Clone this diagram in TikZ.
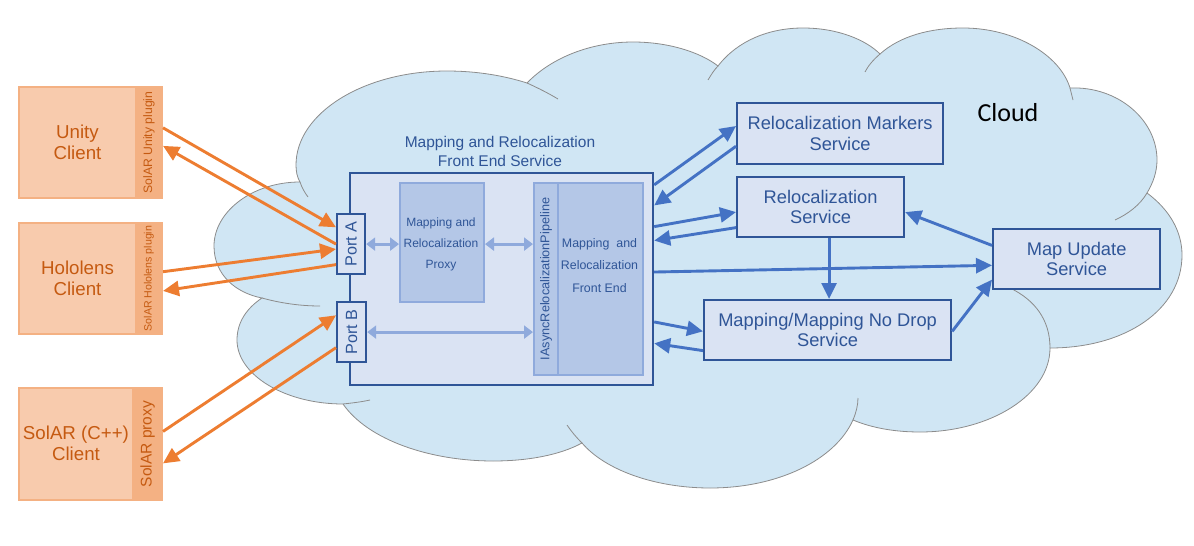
\documentclass[tikz,border=0pt]{standalone}
\usepackage{fontspec}
\setmainfont{Liberation Sans}
\newfontfamily\carlitofont{Carlito}
\usetikzlibrary{arrows.meta,calc}
\definecolor{cloudfill}{HTML}{D0E6F4}
\definecolor{cloudline}{HTML}{8C8C8C}
\definecolor{orng}{HTML}{ED7D31}
\definecolor{clientfill}{HTML}{F8CBAD}
\definecolor{clientdark}{HTML}{F4B183}
\definecolor{clienttext}{HTML}{C55A11}
\definecolor{boxfill}{HTML}{DAE3F3}
\definecolor{boxline}{HTML}{2F5597}
\definecolor{arrowblue}{HTML}{4472C4}
\definecolor{innerfill}{HTML}{B4C7E7}
\definecolor{innerline}{HTML}{8FAADC}
\begin{document}
\begin{tikzpicture}[x=1pt,y=-1pt,
  clientbox/.style={draw=clientdark, fill=clientfill, line width=2pt, inner sep=0pt, anchor=north west},
  clientstrip/.style={draw=clientdark, fill=clientdark, line width=2pt, inner sep=0pt, anchor=north west},
  clienttxt/.style={text=clienttext, font=\fontsize{18.7}{21}\selectfont, align=center},
  striptxt/.style={text=clienttext, rotate=90},
  svcbox/.style={draw=boxline, fill=boxfill, line width=2.2pt, inner sep=0pt, anchor=north west, text=boxline, align=center, font=\fontsize{18.3}{20.5}\selectfont},
  portbox/.style={draw=boxline, fill=boxfill, line width=2.2pt, inner sep=0pt, anchor=north west},
  innerbox/.style={draw=innerline, fill=innerfill, line width=2pt, inner sep=0pt, anchor=north west},
  innertxt/.style={text=boxline, align=center},
  orarrow/.style={draw=orng, line width=2.9pt, -{Triangle[length=16pt 0 0,width=15pt 0 0]}},
  blarrow/.style={draw=arrowblue, line width=2.9pt, -{Triangle[length=16pt 0 0,width=15pt 0 0]}},
  lbarrow/.style={draw=innerline, line width=3pt, {Triangle[length=9pt 0 0,width=13pt 0 0]}-{Triangle[length=9pt 0 0,width=13pt 0 0]}}
]
\useasboundingbox (0,0) rectangle (1194,546);

% cloud
\path[fill=cloudfill, draw=cloudline, line width=0.8pt]
 (262,298) .. controls (236,293) and (214,275) .. (214,246)
 .. controls (214,212) and (252,182) .. (300,182)
 .. controls (297,177) and (296,171) .. (296,165)
 .. controls (296,113) and (364,71) .. (447,71)
 .. controls (478,71) and (505,76) .. (527,83)
 .. controls (552,57) and (592,42) .. (633,42)
 .. controls (668,42) and (700,52) .. (718,66)
 .. controls (738,40) and (770,28) .. (803,28)
 .. controls (838,28) and (866,40) .. (880,54)
 .. controls (900,36) and (930,28) .. (963,28)
 .. controls (1015,28) and (1060,55) .. (1070,88)
 .. controls (1118,86) and (1157,120) .. (1157,160)
 .. controls (1157,172) and (1153,183) .. (1147,193)
 .. controls (1170,210) and (1182,232) .. (1182,255)
 .. controls (1182,310) and (1125,348) .. (1050,348)
 .. controls (1050,395) and (990,432) .. (920,432)
 .. controls (895,432) and (872,428) .. (853,420)
 .. controls (835,460) and (778,488) .. (710,488)
 .. controls (655,488) and (605,470) .. (582,443)
 .. controls (560,455) and (528,461) .. (493,461)
 .. controls (430,461) and (368,440) .. (343,404)
 .. controls (285,404) and (237,375) .. (237,340)
 .. controls (237,322) and (247,308) .. (262,298) -- cycle;
\draw[cloudline, line width=0.8pt]
 (300,182) .. controls (302,188) and (305,193) .. (308,197)
 (527,83) .. controls (538,88) and (548,93) .. (558,99)
 (718,66) .. controls (714,70) and (711,75) .. (708,80)
 (880,54) .. controls (873,60) and (868,66) .. (865,72)
 (1070,88) .. controls (1071,92) and (1072,96) .. (1073,100)
 (1147,193) .. controls (1140,205) and (1128,214) .. (1115,220)
 (1050,348) .. controls (1050,320) and (1035,300) .. (1010,288)
 (853,420) .. controls (856,413) and (858,405) .. (858,398)
 (582,443) .. controls (576,437) and (571,431) .. (567,425)
 (343,404) .. controls (352,403) and (361,402) .. (370,400)
 (262,298) .. controls (280,303) and (300,306) .. (320,306);
\node[font=\carlitofont\fontsize{26}{30}\selectfont] (cloudlbl) at (1008,113) {Cloud};

% clients
\node[clientbox, minimum width=117pt, minimum height=111pt] (unity) at (18,86) {};
\node[clientstrip, minimum width=26pt, minimum height=111pt] (unitys) at (135,86) {};
\node[clienttxt] (unitytxt) at (unity.center) {Unity\\Client};
\node[striptxt, font=\fontsize{12.2}{14}\selectfont] (unityplug) at (unitys.center) {SolAR Unity plugin};

\node[clientbox, minimum width=117pt, minimum height=111pt] (holo) at (18,222) {};
\node[clientstrip, minimum width=26pt, minimum height=111pt] (holos) at (135,222) {};
\node[clienttxt] (holotxt) at (holo.center) {Hololens\\Client};
\node[striptxt, font=\fontsize{10.6}{12}\selectfont] (holoplug) at (holos.center) {SolAR Hololens plugin};

\node[clientbox, minimum width=114pt, minimum height=112pt] (solar) at (18,387) {};
\node[clientstrip, minimum width=29pt, minimum height=112pt] (solars) at (132,387) {};
\node[clienttxt] (solartxt) at (76,443.5) {SolAR (C++)\\Client};
\node[striptxt, font=\fontsize{15.5}{17}\selectfont] (solarplug) at (solars.center) {SolAR proxy};

% front end service
\node[text=boxline, align=center, font=\fontsize{15.5}{19}\selectfont] (fetitle) at (500,151.5) {Mapping and Relocalization\\Front End Service};
\node[portbox, minimum width=303pt, minimum height=212pt] (fe) at (349,172) {};
\node[innerbox, minimum width=84pt, minimum height=119pt] (proxy) at (399,182) {};
\node[innertxt, font=\fontsize{12}{21}\selectfont] (proxytxt) at (441,244) {Mapping and\\Relocalization\\Proxy};
\node[innerbox, minimum width=24pt, minimum height=192pt] (iasync) at (533,182) {};
\node[innertxt, rotate=90, font=\fontsize{12.7}{14}\selectfont] (iasynctxt) at (iasync.center) {IAsyncRelocalizationPipeline};
\node[innerbox, minimum width=85pt, minimum height=192pt] (frontend) at (557,182) {};
\node[innertxt, font=\fontsize{12.4}{22.5}\selectfont] (fetxt) at (599.5,265.5) {Mapping\ \ and\\Relocalization\\Front\ End};
\node[portbox, minimum width=28pt, minimum height=60pt] (porta) at (336,213) {};
\node[innertxt, rotate=90, font=\fontsize{16.2}{18}\selectfont] (portatxt) at (porta.center) {Port A};
\node[portbox, minimum width=29pt, minimum height=60pt] (portb) at (336,301) {};
\node[innertxt, rotate=90, font=\fontsize{16.2}{18}\selectfont] (portbtxt) at (portb.center) {Port B};

% services
\node[svcbox, minimum width=206pt, minimum height=61pt] (rmk) at (736,102) {Relocalization Markers\\Service};
\node[svcbox, minimum width=167pt, minimum height=60pt] (reloc) at (736,176) {Relocalization\\Service};
\node[svcbox, minimum width=167pt, minimum height=60pt] (mu) at (992,228) {Map Update\\Service};
\node[svcbox, minimum width=247pt, minimum height=60pt] (mapping) at (703,299) {Mapping/Mapping No Drop\\Service};

% internal double arrows
\draw[lbarrow] (porta.east) -- (porta.east -| proxy.west);
\draw[lbarrow] (proxy.east |- porta.east) -- (iasync.west |- porta.east);
\draw[lbarrow] (portb.east) -- (portb.east -| iasync.west);

% orange arrows
\draw[orarrow] ($(unitys.north east)!0.37!(unitys.south east)$) -- ($(porta.north west)!0.23!(porta.south west)$);
\draw[orarrow] ($(porta.north west)!0.5!(porta.south west)$) -- ($(unitys.north east)!0.53!(unitys.south east)$);
\draw[orarrow] ($(holos.north east)!0.44!(holos.south east)$) -- ($(porta.north west)!0.58!(porta.south west)$);
\draw[orarrow] ($(porta.north west)!0.83!(porta.south west)$) -- ($(holos.north east)!0.61!(holos.south east)$);
\draw[orarrow] ($(solars.north east)!0.39!(solars.south east)$) -- ($(portb.north west)!0.23!(portb.south west)$);
\draw[orarrow] ($(portb.north west)!0.75!(portb.south west)$) -- ($(solars.north east)!0.67!(solars.south east)$);

% blue arrows
\draw[blarrow] ($(fe.north east)!0.06!(fe.south east)$) -- ($(rmk.north west)!0.38!(rmk.south west)$);
\draw[blarrow] ($(rmk.north west)!0.70!(rmk.south west)$) -- ($(fe.north east)!0.156!(fe.south east)$);
\draw[blarrow] ($(fe.north east)!0.255!(fe.south east)$) -- ($(reloc.north west)!0.58!(reloc.south west)$);
\draw[blarrow] ($(reloc.north west)!0.83!(reloc.south west)$) -- ($(fe.north east)!0.32!(fe.south east)$);
\draw[blarrow] ($(fe.north east)!0.467!(fe.south east)$) -- ($(mu.north west)!0.6!(mu.south west)$);
\draw[blarrow] ($(mu.north west)!0.28!(mu.south west)$) -- ($(reloc.north east)!0.58!(reloc.south east)$);
\coordinate (rdown) at ($(reloc.south west)!0.55!(reloc.south east)$);
\draw[blarrow] (rdown) -- (rdown |- mapping.north);
\draw[blarrow] ($(fe.north east)!0.70!(fe.south east)$) -- ($(mapping.north west)!0.52!(mapping.south west)$);
\draw[blarrow] ($(mapping.north west)!0.83!(mapping.south west)$) -- ($(fe.north east)!0.80!(fe.south east)$);
\draw[blarrow] ($(mapping.north east)!0.52!(mapping.south east)$) -- ($(mu.north west)!0.83!(mu.south west)$);
\end{tikzpicture}
\end{document}
